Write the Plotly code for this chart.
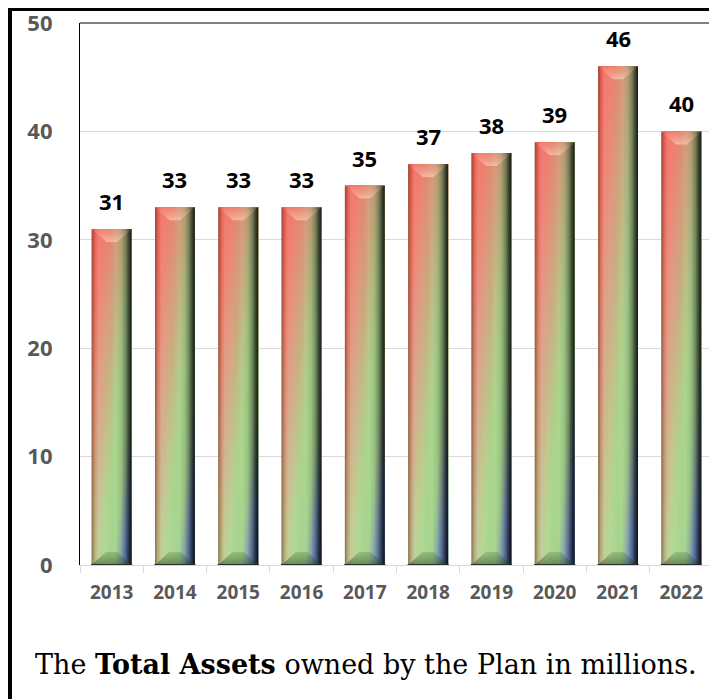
import plotly.graph_objects as go

# ---------------- data ----------------
years = ["2013", "2014", "2015", "2016", "2017", "2018", "2019", "2020", "2021", "2022"]
assets = [31, 33, 33, 33, 35, 37, 38, 39, 46, 40]
y_ticks = [0, 10, 20, 30, 40, 50]
caption = "The <b>Total Assets</b> owned by the Plan in millions."

# ---------------- style ----------------
BAR_W = 0.63
N_STRIPS = 16
K_DIAG = 1.2
GRID = "#d9d9d9"
TICK_GRAY = "#595959"
LABEL_FONT = "Open Sans"

diag_scale = [
    [0.00, "#5f80c8"],
    [0.12, "#84a4dc"],
    [0.20, "#a0c8a0"],
    [0.25, "#a8d690"],
    [0.40, "#acd68e"],
    [0.50, "#bcc488"],
    [0.58, "#caae80"],
    [0.68, "#dc967a"],
    [0.82, "#ee7664"],
    [1.00, "#f45850"],
]
shade_scale = [
    [0.00, "rgba(70,45,20,0.50)"],
    [0.06, "rgba(70,45,20,0.15)"],
    [0.16, "rgba(255,255,255,0.12)"],
    [0.35, "rgba(255,255,255,0.05)"],
    [0.60, "rgba(0,0,0,0)"],
    [0.74, "rgba(0,0,0,0.10)"],
    [0.85, "rgba(0,0,0,0.35)"],
    [0.93, "rgba(0,0,0,0.66)"],
    [1.00, "rgba(0,0,0,0.88)"],
]

x_pos = list(range(len(years)))

fig = go.Figure()

# main bar trace (data mark)
fig.add_trace(go.Bar(
    x=x_pos, y=assets, width=BAR_W,
    marker=dict(color="#bcc488", line=dict(width=0)),
    showlegend=False, hovertemplate="%{y}<extra></extra>",
))

# gradient / bevel overlays derived from the same data
for xc, v in zip(x_pos, assets):
    x0, x1 = xc - BAR_W / 2, xc + BAR_W / 2
    # diagonal gradient built from vertical strips
    for i in range(N_STRIPS):
        f = (i + 0.5) / N_STRIPS
        sx = x0 + BAR_W * i / N_STRIPS
        fig.add_trace(go.Scatter(
            x=[sx, x1, x1, sx, sx], y=[0, 0, v, v, 0],
            mode="none", fill="toself",
            fillgradient=dict(type="vertical", colorscale=diag_scale,
                              start=-K_DIAG * (1 - f) * v, stop=v + K_DIAG * f * v),
            hoverinfo="skip", showlegend=False,
        ))
    # horizontal cylinder shading
    fig.add_trace(go.Scatter(
        x=[x0, x1, x1, x0, x0], y=[0, 0, v, v, 0],
        mode="none", fill="toself",
        fillgradient=dict(type="horizontal", colorscale=shade_scale),
        hoverinfo="skip", showlegend=False,
    ))
    # top bevel
    d = 1.2
    fig.add_trace(go.Scatter(
        x=[x0, x1, x0 + 0.63 * BAR_W, x0 + 0.37 * BAR_W, x0],
        y=[v, v, v - d, v - d, v],
        mode="none", fill="toself",
        fillgradient=dict(type="vertical", colorscale=[[0, "rgba(255,215,195,0.6)"], [1, "rgba(255,170,150,0.08)"]]),
        hoverinfo="skip", showlegend=False,
    ))
    # bottom bevel
    fig.add_trace(go.Scatter(
        x=[x0, x1, x0 + 0.65 * BAR_W, x0 + 0.35 * BAR_W, x0],
        y=[0, 0, d, d, 0],
        mode="none", fill="toself",
        fillgradient=dict(type="vertical", colorscale=[[0, "rgba(30,60,25,0.5)"], [1, "rgba(60,90,40,0.2)"]]),
        hoverinfo="skip", showlegend=False,
    ))
    # dark underline
    fig.add_trace(go.Scatter(
        x=[x0 - 0.01, x1 + 0.01], y=[0, 0], mode="lines",
        line=dict(color="#2a2a2a", width=2), cliponaxis=False,
        hoverinfo="skip", showlegend=False,
    ))

# data labels
for xc, v in zip(x_pos, assets):
    fig.add_annotation(
        x=xc, y=v, text=str(v), showarrow=False, yanchor="bottom", yshift=11,
        font=dict(family=LABEL_FONT, size=22, color="black", weight="bold"),
    )

# caption
fig.add_annotation(
    xref="paper", yref="paper", x=0.4518, y=-0.1827, xanchor="center", yanchor="middle",
    text=caption, showarrow=False,
    font=dict(family="DejaVu Serif", size=27, color="black"),
)

# plot frame (top line) and outer frame
fig.add_shape(type="line", xref="paper", yref="paper", x0=0, x1=1, y0=1, y1=1,
              line=dict(color="black", width=1.2))
fig.add_shape(type="rect", xref="paper", yref="paper",
              x0=-0.1106, x1=1.012, y0=-0.26, y1=1.026,
              line=dict(color="black", width=4))

fig.update_layout(
    width=709, height=691,
    margin=dict(l=72, r=4, t=15, b=134),
    paper_bgcolor="white", plot_bgcolor="white",
    showlegend=False,
    xaxis=dict(
        range=[-0.5, len(years) - 0.5],
        tickmode="array", tickvals=x_pos, ticktext=years,
        ticks="", showgrid=False, zeroline=False,
        showline=True, linecolor=GRID, linewidth=1,
        tickfont=dict(family=LABEL_FONT, size=19, color=TICK_GRAY, weight="bold"),
        ticklabelstandoff=10, automargin=False,
        minor=dict(tickmode="array", tickvals=[i - 0.5 for i in range(len(years) + 1)],
                   ticks="outside", ticklen=7, tickcolor=GRID, tickwidth=1, showgrid=False),
        fixedrange=True,
    ),
    yaxis=dict(
        range=[0, 50], tickmode="array", tickvals=y_ticks,
        ticks="", showgrid=True, gridcolor=GRID, gridwidth=1, zeroline=False,
        showline=True, linecolor="black", linewidth=1.2, mirror=True,
        tickfont=dict(family=LABEL_FONT, size=22, color=TICK_GRAY, weight="bold"),
        ticklabelstandoff=22, ticklabeloverflow="allow", automargin=False,
        fixedrange=True,
    ),
)

fig.write_html("out.html")
